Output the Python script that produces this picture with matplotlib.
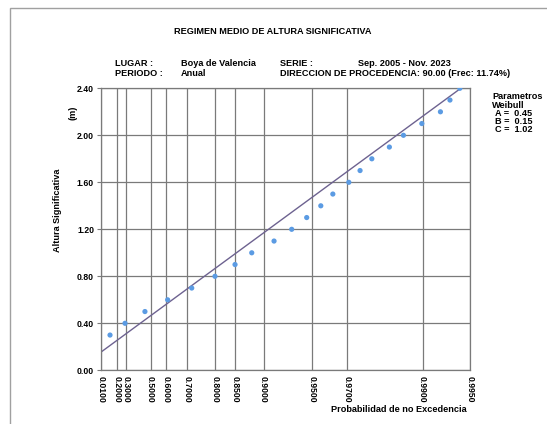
import numpy as np
import matplotlib
matplotlib.use("Agg")
from matplotlib import pyplot as plt
from matplotlib.patches import Rectangle

plt.rcParams['font.family'] = ['Liberation Sans', 'DejaVu Sans']
plt.rcParams['font.weight'] = 'bold'

# parametros Weibull del ajuste
A = 0.45
B = 0.15
C = 1.02

# eje de probabilidad
prob_ticks = [0.01, 0.2, 0.3, 0.5, 0.6, 0.7, 0.8, 0.85, 0.9, 0.95, 0.97, 0.99, 0.995]
prob_labels = ["0.0100", "0.2000", "0.3000", "0.5000", "0.6000", "0.7000", "0.8000",
               "0.8500", "0.9000", "0.9500", "0.9700", "0.9900", "0.9950"]
alt_ticks = [0.0, 0.4, 0.8, 1.2, 1.6, 2.0, 2.4]
alt_labels = ["0.00", "0.40", "0.80", "1.20", "1.60", "2.00", "2.40"]

# datos observados: altura (m) y probabilidad de no excedencia
alturas = [0.3, 0.4, 0.5, 0.6, 0.7, 0.8, 0.9, 1.0, 1.1, 1.2, 1.3,
           1.4, 1.5, 1.6, 1.7, 1.8, 1.9, 2.0, 2.1, 2.2, 2.3, 2.4]
prob_obs = [0.1225, 0.286, 0.459, 0.607, 0.7206, 0.7994, 0.8494, 0.8815, 0.914, 0.9333, 0.9463,
            0.9562, 0.9632, 0.9708, 0.9752, 0.9791, 0.9838, 0.9868, 0.9899, 0.9923, 0.9933, 0.9942]

W, H = 547, 424
FS = 6.6


def weib(p):
    # variable reducida de Weibull
    return (-np.log(1 - np.asarray(p))) ** (1 / C)


def fx(x):
    return x / W


def fy(y):
    return 1 - y / H


fig = plt.figure(figsize=(W / 100, H / 100), dpi=100)
fig.patches.append(Rectangle((fx(10), -0.2), 1.2, fy(8.3) + 0.2, transform=fig.transFigure,
                             fill=False, edgecolor='#a0a0a0', lw=1.0))

ax = fig.add_axes([fx(101), fy(370.3), (470 - 101) / W, (370.3 - 88.3) / H])

u_min = weib(prob_ticks[0])
u_max = weib(prob_ticks[-1])
ax.set_xlim(u_min, u_max)
ax.set_ylim(0, 2.4)

for u in weib(prob_ticks):
    ax.axvline(u, color='#7a7a7a', lw=0.9, zorder=1)
for a in alt_ticks:
    ax.axhline(a, color='#7a7a7a', lw=0.9, zorder=1)

# recta de ajuste
p_line = np.linspace(prob_ticks[0], prob_ticks[-1], 400)
ax.plot(weib(p_line), B + A * weib(p_line), color='#6d6290', lw=1.0, zorder=2)

ax.scatter(weib(prob_obs), alturas, s=14, color='#5b9be3', edgecolors='none', zorder=3)

ax.set_xticks(weib(prob_ticks))
ax.set_xticklabels(prob_labels, rotation=-90, fontsize=6.2)
ax.set_yticks(alt_ticks)
ax.set_yticklabels(alt_labels, fontsize=6.2)
ax.tick_params(axis='x', length=0, pad=4)
ax.tick_params(axis='y', length=3, color='#7a7a7a', pad=2)
for s in ax.spines.values():
    s.set_color('#7a7a7a')
    s.set_linewidth(0.9)

fig.text(fx(273), fy(31.7), "REGIMEN MEDIO DE ALTURA SIGNIFICATIVA", ha='center', va='center', fontsize=FS)
fig.text(fx(115), fy(63.3), "LUGAR :", va='center', fontsize=FS)
fig.text(fx(115), fy(73.3), "PERIODO :", va='center', fontsize=FS)
fig.text(fx(181), fy(63.3), "Boya de Valencia", va='center', fontsize=FS)
fig.text(fx(181), fy(73.3), "Anual", va='center', fontsize=FS)
fig.text(fx(280), fy(63.3), "SERIE :", va='center', fontsize=FS)
fig.text(fx(358), fy(63.3), "Sep. 2005 - Nov. 2023", va='center', fontsize=FS)
fig.text(fx(280), fy(73.3), "DIRECCION DE PROCEDENCIA: 90.00 (Frec: 11.74%)", va='center', fontsize=FS)

fig.text(fx(492), fy(96.7), "Parametros", va='center', fontsize=FS)
fig.text(fx(492), fy(105), "Weibull", va='center', fontsize=FS)
fig.text(fx(495), fy(113.3), "A =  %.2f" % A, va='center', fontsize=FS)
fig.text(fx(495), fy(121.7), "B =  %.2f" % B, va='center', fontsize=FS)
fig.text(fx(495), fy(130), "C =  %.2f" % C, va='center', fontsize=FS)

fig.text(fx(58), fy(210), "Altura Significativa", rotation=90, ha='center', va='center', fontsize=FS)
fig.text(fx(73), fy(113), "(m)", rotation=90, ha='center', va='center', fontsize=FS)
fig.text(fx(467), fy(410), "Probabilidad de no Excedencia", ha='right', va='center', fontsize=FS)

fig.savefig("out.png", dpi=100)
